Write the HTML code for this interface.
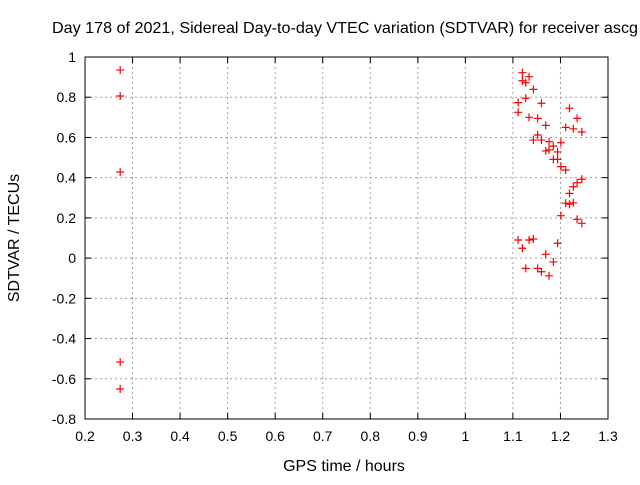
<!DOCTYPE html>
<html><head><meta charset="utf-8"><style>
body{margin:0;background:#fff;}
svg text{font-family:"Liberation Sans",sans-serif;font-size:14px;fill:#000;}
svg text.big{font-size:16px;}
</style></head><body>
<svg id="chart" width="640" height="480">
<rect width="640" height="480" fill="#fff"/>
<g id="grid"></g><g id="axes"></g><g id="pts"></g>
<text class="big" x="52" y="33" textLength="586" lengthAdjust="spacingAndGlyphs">Day 178 of 2021, Sidereal Day-to-day VTEC variation (SDTVAR) for receiver ascg</text>
<text class="big" x="344" y="471" text-anchor="middle">GPS time / hours</text>
<text class="big" transform="translate(19,238) rotate(-90)" text-anchor="middle">SDTVAR / TECUs</text>
</svg>
<script>
const xTicks=[0.2,0.3,0.4,0.5,0.6,0.7,0.8,0.9,1,1.1,1.2,1.3];
const yTicks=[1,0.8,0.6,0.4,0.2,0,-0.2,-0.4,-0.6,-0.8];
const xVals=[0.274,0.274,0.274,0.274,0.274,
1.120,1.134,1.120,1.127,1.143,1.127,1.111,1.160,1.219,1.111,1.134,1.152,1.235,1.169,1.211,1.227,1.245,1.152,1.143,1.160,1.176,1.201,1.185,1.176,1.169,1.194,1.194,1.185,1.201,1.211,1.245,1.235,1.227,1.219,1.211,1.219,1.227,1.201,1.235,1.245,1.111,1.134,1.143,1.120,1.194,1.169,1.185,1.127,1.152,1.160,1.176];
const yVals=[0.935,0.806,0.428,-0.517,-0.651,
0.922,0.902,0.882,0.872,0.839,0.795,0.773,0.770,0.745,0.725,0.700,0.695,0.695,0.660,0.650,0.643,0.627,0.612,0.587,0.587,0.579,0.574,0.557,0.538,0.533,0.528,0.491,0.491,0.455,0.438,0.392,0.375,0.355,0.322,0.273,0.268,0.275,0.211,0.193,0.173,0.090,0.090,0.095,0.049,0.074,0.019,-0.019,-0.051,-0.051,-0.068,-0.088];
const X0=85,X1=608,Y0=57,Y1=419;
const xs=v=>X0+(v-0.2)/1.1*(X1-X0);
const ys=v=>Y0+(1-v)/1.8*(Y1-Y0);
const NS='http://www.w3.org/2000/svg';
function mk(t,a,p){const e=document.createElementNS(NS,t);for(const k in a)e.setAttribute(k,a[k]);p.appendChild(e);return e;}
const grid=document.getElementById('grid'),axes=document.getElementById('axes'),pts=document.getElementById('pts');
xTicks.forEach(v=>{const x=xs(v);
 if(v>0.2&&v<1.3){const g=mk('line',{x1:x,x2:x,y1:Y0,y2:Y1,stroke:'#a0a0a0','stroke-dasharray':'2,3'},grid);}
 mk('line',{x1:x,x2:x,y1:Y1,y2:Y1-6,stroke:'#000'},axes);mk('line',{x1:x,x2:x,y1:Y0,y2:Y0+6,stroke:'#000'},axes);
 const t=mk('text',{x:x,y:Y1+22,'text-anchor':'middle'},axes);t.textContent=String(v);
 });
yTicks.forEach(v=>{const y=ys(v);
 if(v<1&&v>-0.8){const g=mk('line',{x1:X0,x2:X1,y1:y,y2:y,stroke:'#a0a0a0','stroke-dasharray':'2,3'},grid);}
 mk('line',{x1:X0,x2:X0+6,y1:y,y2:y,stroke:'#000'},axes);mk('line',{x1:X1,x2:X1-6,y1:y,y2:y,stroke:'#000'},axes);
 const t=mk('text',{x:X0-9,y:y+5,'text-anchor':'end'},axes);t.textContent=String(v);
 });
const fr=mk('rect',{x:X0,y:Y0,width:X1-X0,height:Y1-Y0,fill:'none',stroke:'#000'},axes);

xVals.forEach((xv,i)=>{const x=xs(xv),y=ys(yVals[i]);
 const p=mk('path',{d:`M${x-4},${y}H${x+4}M${x},${y-4}V${y+4}`,stroke:'#f00','stroke-width':1.2},pts);
 });
</script>
</body></html>
